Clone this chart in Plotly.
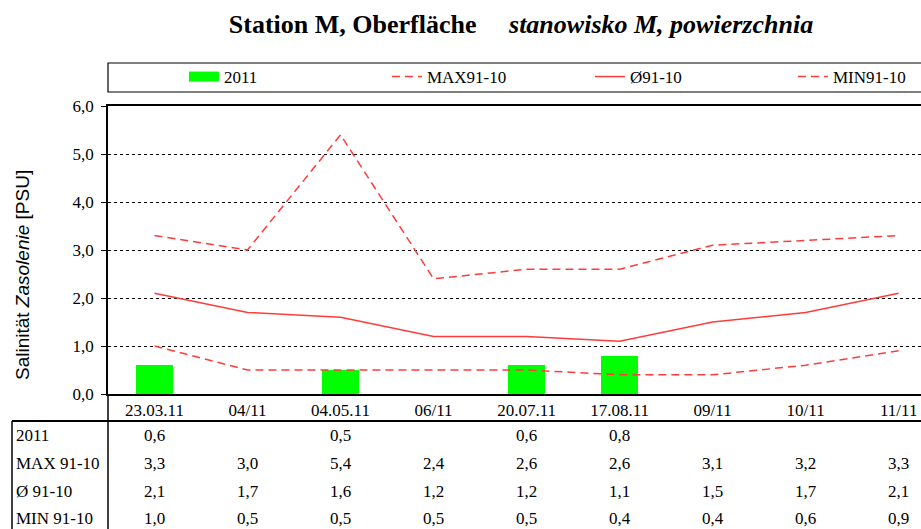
import plotly.graph_objects as go

categories = ["23.03.11", "04/11", "04.05.11", "06/11", "20.07.11", "17.08.11", "09/11", "10/11", "11/11"]
val_2011 = [0.6, None, 0.5, None, 0.6, 0.8, None, None, None]
val_max = [3.3, 3.0, 5.4, 2.4, 2.6, 2.6, 3.1, 3.2, 3.3]
val_avg = [2.1, 1.7, 1.6, 1.2, 1.2, 1.1, 1.5, 1.7, 2.1]
val_min = [1.0, 0.5, 0.5, 0.5, 0.5, 0.4, 0.4, 0.6, 0.9]
row_labels = ["2011", "MAX 91-10", "Ø 91-10", "MIN 91-10"]
y_ticks = [0, 1, 2, 3, 4, 5, 6]

W, H = 921, 529
L, R, T, B = 108, 0, 106, 135
PW, PH = W - L - R, H - T - B

def px_x(px):
    return (px - L) / PW

def px_y(py):
    return (H - B - py) / PH

SERIF = "Liberation Serif, Times New Roman, serif"
SANS = "Liberation Sans, Arial, sans-serif"
RED = "rgb(255,60,60)"
GREEN = "#00FF00"

xs = list(range(len(categories)))
fig = go.Figure()
fig.add_trace(go.Bar(x=xs, y=val_2011, marker=dict(color=GREEN, line=dict(width=0)),
                     width=0.4, name="2011", showlegend=False))
fig.add_trace(go.Scatter(x=[None], y=[None], mode="lines", name="2011",
                         line=dict(color=GREEN, width=10)))
fig.add_trace(go.Scatter(x=xs, y=val_max, mode="lines", name="MAX91-10",
                         line=dict(color=RED, width=1.5, dash="8px,5px")))
fig.add_trace(go.Scatter(x=xs, y=val_avg, mode="lines", name="Ø91-10",
                         line=dict(color=RED, width=1.5)))
fig.add_trace(go.Scatter(x=xs, y=val_min, mode="lines", name="MIN91-10",
                         line=dict(color=RED, width=1.5, dash="8px,5px")))

def fmt(v):
    return "" if v is None else f"{v:.1f}".replace(".", ",")

annotations = [
    dict(text="Salinität <i>Zasolenie</i> [PSU]", xref="paper", yref="paper",
         x=px_x(22), y=px_y(275), xanchor="center", yanchor="middle", textangle=-90,
         showarrow=False, font=dict(family=SANS, size=19, color="black")),
]
rows = [val_2011, val_max, val_avg, val_min]
row_y = [435, 463, 491, 518]
for label, vals, py in zip(row_labels, rows, row_y):
    annotations.append(dict(text=label, xref="paper", yref="paper", x=px_x(14), y=px_y(py),
                            xanchor="left", yanchor="middle", showarrow=False,
                            font=dict(family=SERIF, size=17, color="black")))
    for xi, v in zip(xs, vals):
        if v is None:
            continue
        annotations.append(dict(text=fmt(v), xref="x", yref="paper", x=xi, y=px_y(py),
                                xanchor="center", yanchor="middle", showarrow=False,
                                font=dict(family=SERIF, size=17, color="black")))

shapes = [
    # legend frame
    dict(type="rect", xref="paper", yref="paper", x0=0, x1=1.05,
         y0=px_y(92), y1=px_y(63), line=dict(color="black", width=1.2), fillcolor="rgba(0,0,0,0)"),
    # table lines
    dict(type="line", xref="paper", yref="paper", x0=px_x(12), x1=1.05, y0=px_y(421), y1=px_y(421),
         line=dict(color="black", width=2)),
    dict(type="line", xref="paper", yref="paper", x0=px_x(12), x1=px_x(12), y0=px_y(421), y1=px_y(540),
         line=dict(color="black", width=1.5)),
    dict(type="line", xref="paper", yref="paper", x0=0, x1=0, y0=0, y1=px_y(540),
         line=dict(color="black", width=1.5)),
]

fig.update_layout(
    width=W, height=H,
    margin=dict(l=L, r=R, t=T, b=B, pad=0, autoexpand=False),
    paper_bgcolor="white", plot_bgcolor="white",
    separators=", ",
    font=dict(family=SERIF, color="black"),
    title=dict(text="<b>Station M, Oberfläche</b>     <b><i>stanowisko M, powierzchnia</i></b>",
               x=px_x(521), xref="paper", xanchor="center", y=1 - 24 / H, yanchor="middle",
               font=dict(family=SERIF, size=26, color="black")),
    showlegend=True,
    legend=dict(orientation="h", x=-0.0001, xanchor="left", y=px_y(59), yanchor="top",
                borderwidth=0, bgcolor="rgba(0,0,0,0)",
                entrywidth=82, indentation=76, traceorder="normal",
                font=dict(family=SERIF, size=17, color="black")),
    bargap=0,
    xaxis=dict(range=[-0.5, 8.24], tickvals=xs, ticktext=categories, showgrid=False,
               showline=True, linecolor="black", linewidth=1.5, mirror=True, ticks="",
               tickfont=dict(family=SERIF, size=17, color="black"), zeroline=False),
    yaxis=dict(range=[0, 6], tickvals=y_ticks, tickformat=".1f", showgrid=True,
               gridcolor="black", griddash="dot", gridwidth=1,
               showline=True, linecolor="black", linewidth=1.5, ticks="outside", ticklen=5,
               tickcolor="black", zeroline=False, ticklabelstandoff=4,
               tickfont=dict(family=SERIF, size=17, color="black")),
    annotations=annotations,
    shapes=shapes,
)

fig.write_html("out.html", config={"displayModeBar": False},
               post_script="document.body.style.margin='0';document.body.style.overflow='hidden';")
